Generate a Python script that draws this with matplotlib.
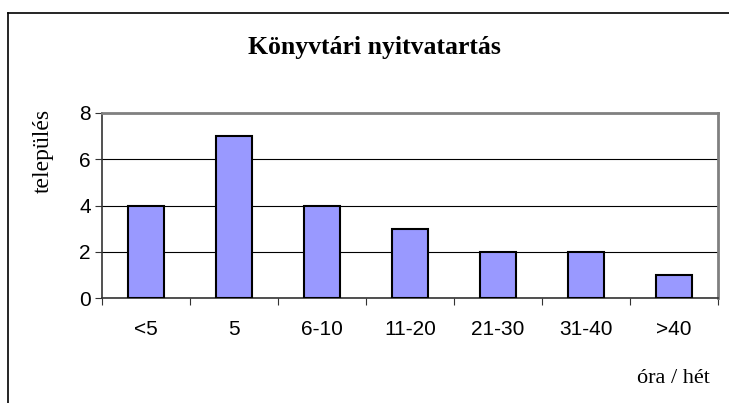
import matplotlib.pyplot as plt
from matplotlib.lines import Line2D

# Data
categories = ['<5', '5', '6-10', '11-20', '21-30', '31-40', '>40']
settlements = [4, 7, 4, 3, 2, 2, 1]
y_ticks = [0, 2, 4, 6, 8]

W, H = 729, 403
fig = plt.figure(figsize=(W / 100, H / 100), dpi=100)

# plot area in pixel coords -> figure fractions
left, right, top, bottom = 102, 718, 113, 298
ax = fig.add_axes([left / W, 1 - bottom / H, (right - left) / W, (bottom - top) / H])

x = range(len(categories))
ax.bar(x, settlements, width=0.41, color='#9999ff', edgecolor='black', linewidth=1.5, zorder=3)

ax.set_xlim(-0.5, len(categories) - 0.5)
ax.set_ylim(0, 8)
ax.set_yticks(y_ticks)
ax.set_yticklabels([str(v) for v in y_ticks], family='Liberation Sans', fontsize=15)
ax.yaxis.grid(True, color='black', linewidth=0.8, zorder=0)

# ticks between categories, labels centred under bars
ax.set_xticks([i - 0.5 for i in range(len(categories) + 1)])
ax.set_xticklabels([])
ax.set_xticks(list(x), minor=True)
ax.set_xticklabels(categories, minor=True, family='Liberation Sans', fontsize=15)
ax.tick_params(axis='x', which='minor', length=0, pad=16)
ax.tick_params(axis='x', which='major', length=5, color='#333333')
ax.tick_params(axis='y', length=5, color='#333333', pad=3)

for s in ['top', 'right']:
    ax.spines[s].set_color('#808080')
    ax.spines[s].set_linewidth(2)
for s in ['left', 'bottom']:
    ax.spines[s].set_color('#333333')
    ax.spines[s].set_linewidth(1.2)

fig.text(374 / W, 1 - 54 / H, 'Könyvtári nyitvatartás', ha='center', va='baseline',
         family='Liberation Serif', fontweight='bold', fontsize=18.5)
fig.text(43 / W, 1 - 151 / H, 'település', ha='center', va='center', rotation=90,
         family='Liberation Serif', fontsize=17)
fig.text(710 / W, 1 - 383 / H, 'óra / hét', ha='right', va='baseline',
         family='Liberation Serif', fontsize=16)

# outer chart border (runs off right and bottom)
fig.add_artist(Line2D([8 / W, 8 / W], [1 - 13 / H, 0], color='black', linewidth=1.2))
fig.add_artist(Line2D([8 / W, 1], [1 - 13 / H, 1 - 13 / H], color='black', linewidth=1.2))

fig.savefig('out.png', dpi=100)
